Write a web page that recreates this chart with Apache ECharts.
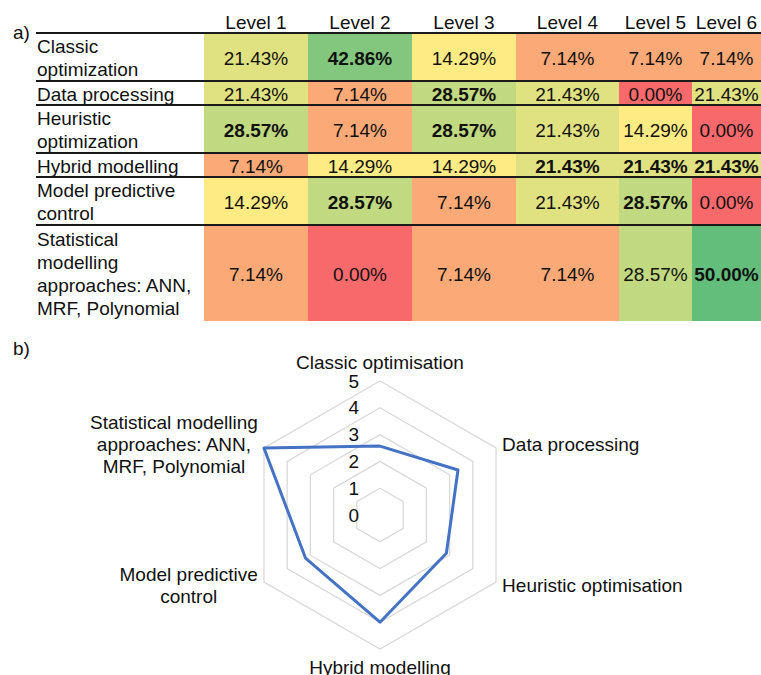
<!DOCTYPE html>
<html><head><meta charset="utf-8">
<script src="https://cdn.jsdelivr.net/npm/echarts@6/dist/echarts.min.js"></script>
<style>html,body{margin:0;padding:0;background:#fff}#c{width:761px;height:675px}</style>
</head><body><div id="c"></div>
<script>
// ---------- data ----------
const levels = ['Level 1', 'Level 2', 'Level 3', 'Level 4', 'Level 5', 'Level 6'];
const methods = [
  'Classic\noptimization',
  'Data processing',
  'Heuristic\noptimization',
  'Hybrid modelling',
  'Model predictive\ncontrol',
  'Statistical\nmodelling\napproaches: ANN,\nMRF, Polynomial'
];
const classicPct   = [21.43, 42.86, 14.29, 7.14, 7.14, 7.14];
const dataProcPct  = [21.43, 7.14, 28.57, 21.43, 0.00, 21.43];
const heuristicPct = [28.57, 7.14, 28.57, 21.43, 14.29, 0.00];
const hybridPct    = [7.14, 14.29, 14.29, 21.43, 21.43, 21.43];
const mpcPct       = [14.29, 28.57, 7.14, 21.43, 28.57, 0.00];
const statPct      = [7.14, 0.00, 7.14, 7.14, 28.57, 50.00];
const radarNames = [
  'Classic optimisation',
  'Data processing',
  'Heuristic optimisation',
  'Hybrid modelling',
  'Model predictive\ncontrol',
  'Statistical modelling\napproaches: ANN,\nMRF, Polynomial'
];
const radarValues = [2.57, 3.36, 2.86, 4.00, 3.21, 5.00];
const radarMax = 5;

// ---------- layout / style ----------
const FONT = '"Liberation Sans", Arial, sans-serif';
const FS = 19;
const TXT = '#111111';
const COL_W = [168, 104, 104, 104, 103, 73, 69]; // label column + level columns (px)
const colStart = []; COL_W.reduce((a, w, i) => (colStart[i] = a, a + w), 0);
const tableW = COL_W.reduce((a, b) => a + b, 0);
const rowLines = methods.map(m => m.split('\n').length);
const rowStart = []; rowLines.reduce((a, w, i) => (rowStart[i] = a, a + w), 0);
const totalLines = rowLines.reduce((a, b) => a + b, 0);
const RED = '#F8696B', YEL = '#FFEB84', GRN = '#63BE7B';
const MID = 14.29, MAXV = 50;
function scaleColor(v) {
  if (v <= MID) return echarts.color.lerp(v / MID, [RED, YEL]);
  return echarts.color.lerp((v - MID) / (MAXV - MID), [YEL, GRN]);
}

const matrix = [classicPct, dataProcPct, heuristicPct, hybridPct, mpcPct, statPct];
const cellData = [];
matrix.forEach((row, r) => {
  const mx = Math.max(...row);
  row.forEach((v, c) => cellData.push([c, r, v, v === mx ? 1 : 0]));
});

// radar goes counter-clockwise in ECharts; reference goes clockwise from top
const order = [0, 5, 4, 3, 2, 1];

const chart = echarts.init(document.getElementById('c'), null, { renderer: 'svg' });
chart.setOption({
  animation: false,
  backgroundColor: '#fff',
  textStyle: { fontFamily: FONT },
  title: [
    { text: 'a)', left: 8, top: 18, textStyle: { fontSize: FS, fontWeight: 'normal', color: TXT, fontFamily: FONT } },
    { text: 'b)', left: 8, top: 334, textStyle: { fontSize: FS, fontWeight: 'normal', color: TXT, fontFamily: FONT } }
  ],
  grid: { left: 36, top: 33, width: tableW, height: 288 },
  xAxis: { type: 'value', min: 0, max: tableW, show: false },
  yAxis: { type: 'value', min: 0, max: totalLines, inverse: true, show: false },
  radar: {
    center: [380, 515],
    radius: 134,
    startAngle: 90,
    splitNumber: 5,
    shape: 'polygon',
    nameGap: 7,
    indicator: order.map((i, k) => {
      const ind = { name: radarNames[i], min: 0, max: radarMax };
      if (k === 0) ind.axisLabel = { show: true };
      return ind;
    }),
    axisName: {
      color: TXT, fontSize: FS, fontFamily: FONT,
      formatter: n => n.split('\n').map(s => '{c|' + s + '}').join('\n'),
      rich: { c: { align: 'center', fontSize: FS, fontFamily: FONT, color: TXT, lineHeight: 22 } }
    },
    axisLine: { show: false },
    axisTick: { show: false },
    splitArea: { show: false },
    splitLine: { lineStyle: { color: '#D9D9D9', width: 1.3 } },
    axisLabel: { show: false, fontSize: FS, color: TXT, fontFamily: FONT, margin: 21, showMinLabel: true, showMaxLabel: true }
  },
  series: [
    {
      type: 'custom',
      coordinateSystem: 'cartesian2d',
      data: cellData,
      renderItem: function (params, api) {
        const c = api.value(0), r = api.value(1), v = api.value(2), bold = api.value(3);
        const x0 = colStart[c + 1], x1 = x0 + COL_W[c + 1];
        const y0 = rowStart[r], y1 = y0 + rowLines[r];
        const p0 = api.coord([x0, y0]), p1 = api.coord([x1, y1]);
        return {
          type: 'group',
          children: [
            { type: 'rect', shape: { x: p0[0], y: p0[1], width: p1[0] - p0[0], height: p1[1] - p0[1] },
              style: { fill: scaleColor(v) } },
            { type: 'text', x: (p0[0] + p1[0]) / 2, y: (p0[1] + p1[1]) / 2 + 1,
              style: { text: v.toFixed(2) + '%', fill: TXT, fontSize: FS, fontFamily: FONT,
                       fontWeight: bold ? 'bold' : 'normal', align: 'center', verticalAlign: 'middle' } }
          ]
        };
      },
      z: 2
    },
    {
      type: 'custom',
      coordinateSystem: 'cartesian2d',
      data: methods.map((m, r) => [0, r]),
      renderItem: function (params, api) {
        const r = api.value(1);
        const top = api.coord([0, rowStart[r]]);
        const mid = api.coord([0, rowStart[r] + rowLines[r] / 2]);
        const right = api.coord([tableW, rowStart[r]]);
        return {
          type: 'group',
          children: [
            { type: 'text', x: mid[0] + 1, y: mid[1] + 1,
              style: { text: methods[r], fill: TXT, fontSize: FS, fontFamily: FONT, lineHeight: 23,
                       align: 'left', verticalAlign: 'middle' } },
            { type: 'line', shape: { x1: top[0], y1: top[1], x2: right[0], y2: top[1] },
              style: { stroke: '#1a1a1a', lineWidth: 2 }, z2: 10 }
          ]
        };
      },
      z: 3
    },
    {
      type: 'custom',
      coordinateSystem: 'cartesian2d',
      data: levels.map((l, c) => [c, 0]),
      renderItem: function (params, api) {
        const c = api.value(0);
        const p = api.coord([colStart[c + 1] + COL_W[c + 1] / 2, 0]);
        return { type: 'text', x: p[0], y: p[1] - 11,
                 style: { text: levels[c], fill: TXT, fontSize: FS, fontFamily: FONT, align: 'center', verticalAlign: 'middle' } };
      },
      z: 3
    },
    {
      type: 'radar',
      symbol: 'none',
      lineStyle: { color: '#4472C4', width: 3 },
      itemStyle: { color: '#4472C4' },
      data: [{ value: order.map(i => radarValues[i]), name: 'Mean level' }]
    }
  ]
});
</script></body></html>
